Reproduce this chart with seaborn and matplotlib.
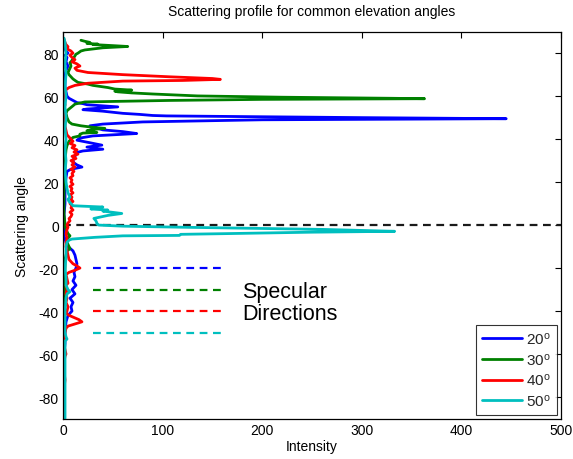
import numpy as np
import pandas as pd
import matplotlib
matplotlib.use("Agg")
import matplotlib.pyplot as plt
import seaborn as sns

# ---------------- data ----------------
series_names = ["20", "30", "40", "50"]
series_labels = ["20$^{o}$", "30$^{o}$", "40$^{o}$", "50$^{o}$"]
series_colors = ["#0000ff", "#008000", "#ff0000", "#00bfbf"]

angle_20 = [83, 82, 81, 80, 79, 78, 76, 74, 72, 70, 68, 66, 64, 62, 60, 59, 58, 57,
            56.5, 56, 55, 54, 53.7, 53, 52, 51.5, 51, 50.8, 50, 49.5, 49, 48, 47,
            46.2, 45, 44.3, 43.5, 42.6, 41.5, 40.5, 39.5, 38.5, 37.2, 36.3, 35.3,
            34.5, 33.8, 32, 30, 29.3, 28, 27, 26, 25, 22, 18, 15, 10, 5, 0, -5, -8,
            -10, -12, -14, -16, -18, -20, -22, -24, -26, -28, -30, -32, -34, -36,
            -38, -40, -42, -45, -50, -55, -60, -70, -80, -88]
inten_20 = [1, 2, 3, 5, 2, 4, 3, 5, 3, 2, 2, 2, 2, 3, 4, 6, 10, 14,
            20, 24, 55, 24, 20, 40, 60, 77, 90, 104, 300, 445, 200, 80, 40,
            27, 35, 40, 60, 74, 30, 17, 14, 25, 39, 24, 40,
            20, 14, 12, 10, 10, 14, 19, 8, 4, 3, 2, 2, 2, 1, 2, 1, 3,
            5, 10, 12, 13, 14, 13, 11, 12, 10, 13, 9, 12, 7, 10,
            8, 9, 5, 3, 2, 2, 1, 1, 1, 1]

angle_30 = [86, 85.5, 85, 84.5, 84.2, 84, 83.5, 83.1, 82.5, 81.5, 81, 80, 79.5, 78,
            76, 75.6, 74, 72, 71, 70, 69, 68, 67, 66.4, 65.6, 65, 64, 63.3, 62.8,
            62.3, 62, 61.5, 61, 60.1, 59.5, 59, 58.8, 58.5, 58, 57.3, 56.3, 55.5,
            54, 53.2, 52, 50, 49, 48, 47, 46.2, 45.5, 45, 44.5, 43.9, 43.5, 43.1,
            42.8, 42.3, 41.5, 40.8, 39, 37, 35, 30, 25, 20, 15, 10, 5, 0, -2, -4,
            -5, -6, -8, -10, -11, -12, -14, -16, -20, -25, -30, -35, -40, -50,
            -60, -70, -84]
inten_30 = [18, 22, 27, 24, 35, 30, 50, 65, 40, 22, 18, 15, 13, 11,
            8, 7, 8, 6, 5, 6, 8, 10, 13, 15, 25, 30, 45, 52, 69,
            52, 55, 69, 90, 135, 220, 330, 363, 200, 107, 22, 12, 10,
            6, 4, 3, 4, 5, 6, 9, 18, 30, 42, 30, 24, 28, 34,
            20, 17, 17, 10, 6, 4, 3, 2, 2, 1, 1, 1, 1, 2, 3, 5,
            7, 5, 4, 6, 7, 4, 3, 2, 2, 1, 2, 1, 1, 1,
            1, 1, 1]

angle_40 = [86.5, 85, 84, 83, 82, 81, 80, 79, 78, 77, 76, 75, 74, 73.5, 73, 72, 71,
            70, 69, 68.2, 67.8, 67.3, 67, 66, 65, 64, 63, 62, 60, 58, 56, 54, 52,
            50, 48, 46, 44, 42, 41, 40, 39, 38, 37, 36, 35, 34, 33, 32, 31, 30, 29,
            28, 27, 26, 25, 24, 23, 22, 21, 20, 19, 18, 17, 16, 15, 14, 13, 12, 11,
            10, 9, 8, 7, 6, 5, 4, 3, 2, 1, 0, -1, -2, -4, -6, -8, -10, -12, -14,
            -16, -17, -18, -19, -20, -21, -22, -23, -25, -27, -28, -30, -32, -34,
            -36, -38, -40, -41, -42, -43, -44, -45, -46, -47, -48, -50, -53, -56,
            -58, -60, -61, -64, -68, -72, -76, -80, -84, -88]
inten_40 = [1, 2, 3, 5, 4, 8, 10, 7, 9, 12, 9, 14, 17, 14, 12, 14, 25,
            60, 107, 150, 158, 120, 60, 25, 12, 6, 3, 2, 1, 1, 2, 1, 1,
            2, 2, 2, 3, 4, 6, 8, 10, 7, 12, 9, 14, 11, 15, 9, 13, 8, 11,
            9, 12, 8, 11, 9, 10, 7, 9, 8, 10, 7, 9, 8, 10, 7, 9, 8, 10,
            7, 9, 8, 10, 7, 9, 8, 6, 7, 5, 4, 5, 4, 3, 4, 3, 3, 4, 5,
            6, 8, 10, 14, 17, 12, 6, 3, 4, 5, 3, 4, 3, 4,
            3, 5, 4, 3, 6, 11, 16, 19, 12, 5, 3, 2, 1, 1,
            2, 3, 2, 1, 1, 2, 1, 1, 1, 1]

angle_50 = [87, 85, 80, 75, 70, 65, 60, 55, 50, 45, 40, 35, 30, 25, 20, 17, 15, 14,
            13, 12, 11, 10, 9, 8.4, 7.5, 7, 6.5, 5.4, 4.5, 3.8, 3.1, 2, 1, 0.5, 0,
            -0.5, -1, -2, -2.9, -3.3, -4, -4.3, -4.8, -5, -5.7, -6.5, -7, -8, -10,
            -15, -20, -25, -28, -30, -31, -32, -34, -40, -45, -50, -52, -53, -54,
            -60, -70, -80, -90]
inten_50 = [1, 2, 3, 2, 3, 2, 3, 2, 3, 2, 3, 2, 3, 2, 3, 4, 5, 6,
            7, 5, 6, 8, 10, 40, 28, 45, 40, 59, 45, 38, 31, 33, 34, 34, 36,
            60, 120, 260, 333, 250, 160, 118, 117, 60, 32, 9, 6, 4, 3,
            3, 2, 3, 3, 5, 7, 4, 3, 2, 2, 2, 3, 4, 2,
            2, 2, 2, 2]

specular_angles = [-20, -30, -40, -50]
specular_span = [30, 160]

xticks = [0, 100, 200, 300, 400, 500]
yticks = [-80, -60, -40, -20, 0, 20, 40, 60, 80]

# ---------------- build long-form table ----------------
frames = []
for name, ang, val in zip(series_names,
                          [angle_20, angle_30, angle_40, angle_50],
                          [inten_20, inten_30, inten_40, inten_50]):
    frames.append(pd.DataFrame({"angle": ang, "intensity": val, "series": name}))
df = pd.concat(frames, ignore_index=True)

# ---------------- style ----------------
sns.set_theme(style="white")
plt.rcParams["font.family"] = ["Liberation Sans", "DejaVu Sans"]
plt.rcParams["mathtext.default"] = "regular"
plt.rcParams["axes.unicode_minus"] = False
plt.rcParams["xtick.direction"] = "in"
plt.rcParams["ytick.direction"] = "in"

fig = plt.figure(figsize=(5.73, 4.6), dpi=100)
ax = fig.add_axes([0.110, 0.088, 0.869, 0.841])

sns.lineplot(data=df, x="intensity", y="angle", hue="series",
             palette=dict(zip(series_names, series_colors)),
             sort=False, estimator=None, linewidth=2, legend=False, ax=ax)

series_lines = list(ax.lines[:4])

ax.axhline(0, color="k", ls=(0, (3.5, 2.5)), lw=1.6, zorder=1)

for a, c in zip(specular_angles, series_colors):
    ax.plot(specular_span, [a, a], color=c, ls=(0, (3.5, 2.5)), lw=1.6)

ax.text(180, -36, "Specular\nDirections", fontsize=15.5, va="center", ha="left",
        linespacing=1.12, color="black")

ax.set_xlim(0, 500)
ax.set_ylim(-90, 90)
ax.set_xticks(xticks)
ax.set_yticks(yticks)
ax.tick_params(axis="both", which="both", direction="in", length=4, width=0.8,
               top=True, right=True, labelsize=10, color="black", pad=3,
               labelcolor="black")
for s in ax.spines.values():
    s.set_color("black")
    s.set_linewidth(0.9)

ax.set_xlabel("Intensity", fontsize=10, labelpad=2, color="black")
ax.set_ylabel("Scattering angle", fontsize=10, labelpad=7, color="black")
ax.set_title("Scattering profile for common elevation angles", fontsize=10,
             pad=12, color="black")

leg = ax.legend(series_lines, series_labels, loc="lower right",
                bbox_to_anchor=(1.0, 0.0), borderaxespad=0.25, fontsize=11,
                frameon=True, fancybox=False, edgecolor="black",
                handlelength=2.6, handletextpad=0.3, labelspacing=0.3,
                borderpad=0.4)
leg.get_frame().set_linewidth(0.8)

fig.savefig("out.png", dpi=100, facecolor="white")
